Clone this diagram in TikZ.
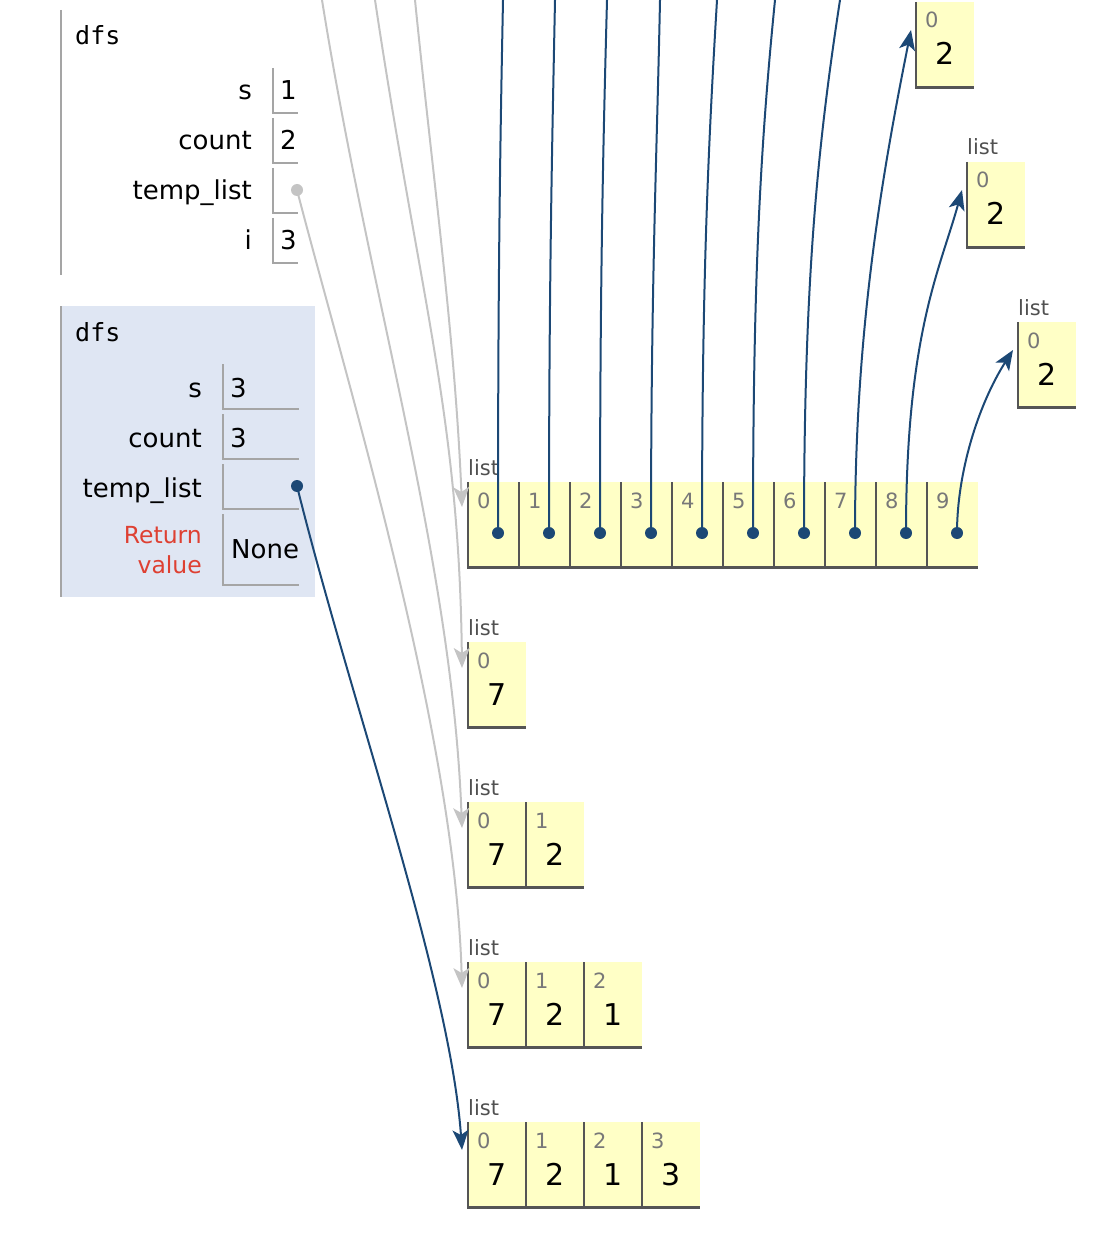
\documentclass[tikz,border=0pt]{standalone}
\usepackage{fontspec}
\setmainfont{DejaVu Sans}
\setmonofont{DejaVu Sans Mono}
\usetikzlibrary{arrows.meta,positioning}
\definecolor{framebg}{RGB}{223,230,243}
\definecolor{framebar}{RGB}{165,165,165}
\definecolor{slotgray}{RGB}{165,165,165}
\definecolor{cellyel}{RGB}{255,255,198}
\definecolor{cellrule}{RGB}{85,85,85}
\definecolor{idxgray}{RGB}{120,120,120}
\definecolor{taggray}{RGB}{80,80,80}
\definecolor{ptrblue}{RGB}{28,72,117}
\definecolor{ptrgray}{RGB}{196,196,196}
\definecolor{retred}{RGB}{222,64,50}
\newcommand{\txtVar}{\fontsize{26}{30}\selectfont}
\newcommand{\txtRet}{\fontsize{23.5}{30}\selectfont}
\newcommand{\txtIdx}{\fontsize{21}{24}\selectfont}
\newcommand{\txtVal}{\fontsize{30}{36}\selectfont}
\newcommand{\txtName}{\fontsize{25}{30}\selectfont\ttfamily}
\tikzset{
  fbar/.style={draw=framebar,line width=2.5pt},
  frm/.style={fill=framebg,anchor=north west,inner sep=0pt,minimum width=254,minimum height=291},
  fname/.style={anchor=base west,inner sep=0pt,font=\txtName},
  slot/.style={anchor=north west,inner sep=0pt,minimum height=45},
  slotb/.style={draw=slotgray,line width=2pt},
  varname/.style={anchor=base east,inner sep=0pt,font=\txtVar},
  varval/.style={anchor=base west,inner sep=0pt,font=\txtVar},
  cell/.style={fill=cellyel,anchor=north west,inner sep=0pt,minimum width=58,minimum height=85},
  cellb/.style={draw=cellrule,line width=2.5pt},
  idx/.style={anchor=base west,inner sep=0pt,font=\txtIdx,text=idxgray},
  val/.style={anchor=base,inner sep=0pt,font=\txtVal},
  lsttag/.style={anchor=base west,inner sep=0pt,font=\txtIdx,text=taggray},
  ptr/.style={-{Stealth[length=20pt,width=16pt,inset=5pt]},line width=2pt,ptrblue},
  oldptr/.style={ptr,ptrgray},
  bdot/.style={circle,fill=ptrblue,inner sep=0pt,minimum size=12pt},
  gdot/.style={bdot,fill=ptrgray},
}
% heap list: name, left, top, cell width, values
\newcommand{\pylist}[5]{%
  \foreach \v [count=\k from 0] in {#5} {
    \node[cell,minimum width=#4] (#1-\k) at (#2+#4*\k,#3) {};
    \draw[cellb] (#1-\k.north west) |- (#1-\k.south east);
    \node[idx] (#1-\k-i) at ([shift={(9,26)}]#1-\k.north west) {\k};
    \node[val] (#1-\k-v) at ([shift={(0,63)}]#1-\k.north) {\v};
  }%
}

\begin{document}
\begin{tikzpicture}[x=1pt,y=-1pt]
\useasboundingbox (0,0) rectangle (1110,1238);

% older frame
\draw[fbar] (61,10) -- (61,275);
\node[fname] (f1) at (75,45) {dfs};
\foreach \nm/\v [count=\k from 0] in {s/1,count/2,temp\_list/,i/3} {
  \node[slot,minimum width=25] (a-\k) at (273,68+50*\k) {};
  \draw[slotb] (a-\k.north west) |- (a-\k.south east);
  \node[varname] (a-\k-n) at (252,100+50*\k) {\nm};
  \node[varval] (a-\k-v) at (280,100+50*\k) {\v};
}
\node[gdot] (tl1) at (297,190) {};

% active frame
\node[frm] (f2) at (61,306) {};
\draw[fbar] (f2.north west) -- (f2.south west);
\node[fname] (f2n) at (75,341) {dfs};
\foreach \nm/\v [count=\k from 0] in {s/3,count/3,temp\_list/} {
  \node[slot,minimum width=76] (b-\k) at (223,364+50*\k) {};
  \draw[slotb] (b-\k.north west) |- (b-\k.south east);
  \node[varname] (b-\k-n) at (202,397+50*\k) {\nm};
  \node[varval] (b-\k-v) at (230,397+50*\k) {\v};
}
\node[slot,minimum width=76,minimum height=71] (b-3) at (223,514) {};
\draw[slotb] (b-3.north west) |- (b-3.south east);
\node[varname,text=retred,font=\txtRet] (b-3-n) at (202,543) {Return};
\node[varname,text=retred,font=\txtRet] (b-3-m) at (202,573) {value};
\node[varval] (b-3-v) at (231,558) {None};
\node[bdot] (tl2) at (297,486) {};

% heap: list of lists
\foreach \k in {0,...,9} {
  \node[cell,minimum width=51] (L-\k) at (468+51*\k,482) {};
  \draw[cellb] (L-\k.north west) |- (L-\k.south east);
  \node[idx] (L-\k-i) at ([shift={(9,26)}]L-\k.north west) {\k};
  \node[bdot] (d\k) at ([shift={(30,51)}]L-\k.north west) {};
}
% heap: small lists
\pylist{P}{468}{642}{58}{7}
\pylist{Q}{468}{802}{58}{7,2}
\pylist{R}{468}{962}{58}{7,2,1}
\pylist{T}{468}{1122}{58}{7,2,1,3}
\pylist{A}{916}{2}{58}{2}
\pylist{B}{967}{162}{58}{2}
\pylist{C}{1018}{322}{58}{2}
\foreach \n in {L,P,Q,R,T,B,C}
  \node[lsttag] (\n-tag) at ([shift={(0,-7)}]\n-0.north west) {list};

% pointers from above the view
\coordinate (g0) at (415,0);
\coordinate (g1) at (375,0);
\coordinate (g2) at (322,0);
\draw[oldptr] (g0) .. controls +(17,170) and +(-7,-170) .. ([shift={(-6,25)}]L-0.north west);
\draw[oldptr] (g1) .. controls +(45,300) and +(-3,-253) .. ([shift={(-6,26)}]P-0.north west);
\draw[oldptr] (g2) .. controls +(48,300) and +(-10,-267) .. ([shift={(-6,26)}]Q-0.north west);
\draw[oldptr] (tl1.center) .. controls +(52,200) and +(-7,-253) .. ([shift={(-6,26)}]R-0.north west);
\draw[ptr] (tl2.center) .. controls +(53,214) and +(-12,-170) .. ([shift={(-6,28)}]T-0.north west);

% list items pointing up
\foreach \k/\tx/\s in {0/503/3,1/555/3,2/607/4,3/660/3,4/717/9,5/775/15,6/840/23} {
  \coordinate (u\k) at (\tx,0);
  \draw[ptr,-] (d\k.center) .. controls +(0,-250) and +(-\s,150) .. (u\k);
}
\draw[ptr] (d7.center) .. controls +(0,-200) and +(-30,150) .. ([shift={(-5,28)}]A-0.north west);
\draw[ptr] (d8.center) .. controls +(0,-200) and +(-22,80) .. ([shift={(-5,28)}]B-0.north west);
\draw[ptr] (d9.center) .. controls +(0,-60) and +(-35,55) .. ([shift={(-5,28)}]C-0.north west);
\end{tikzpicture}
\end{document}
